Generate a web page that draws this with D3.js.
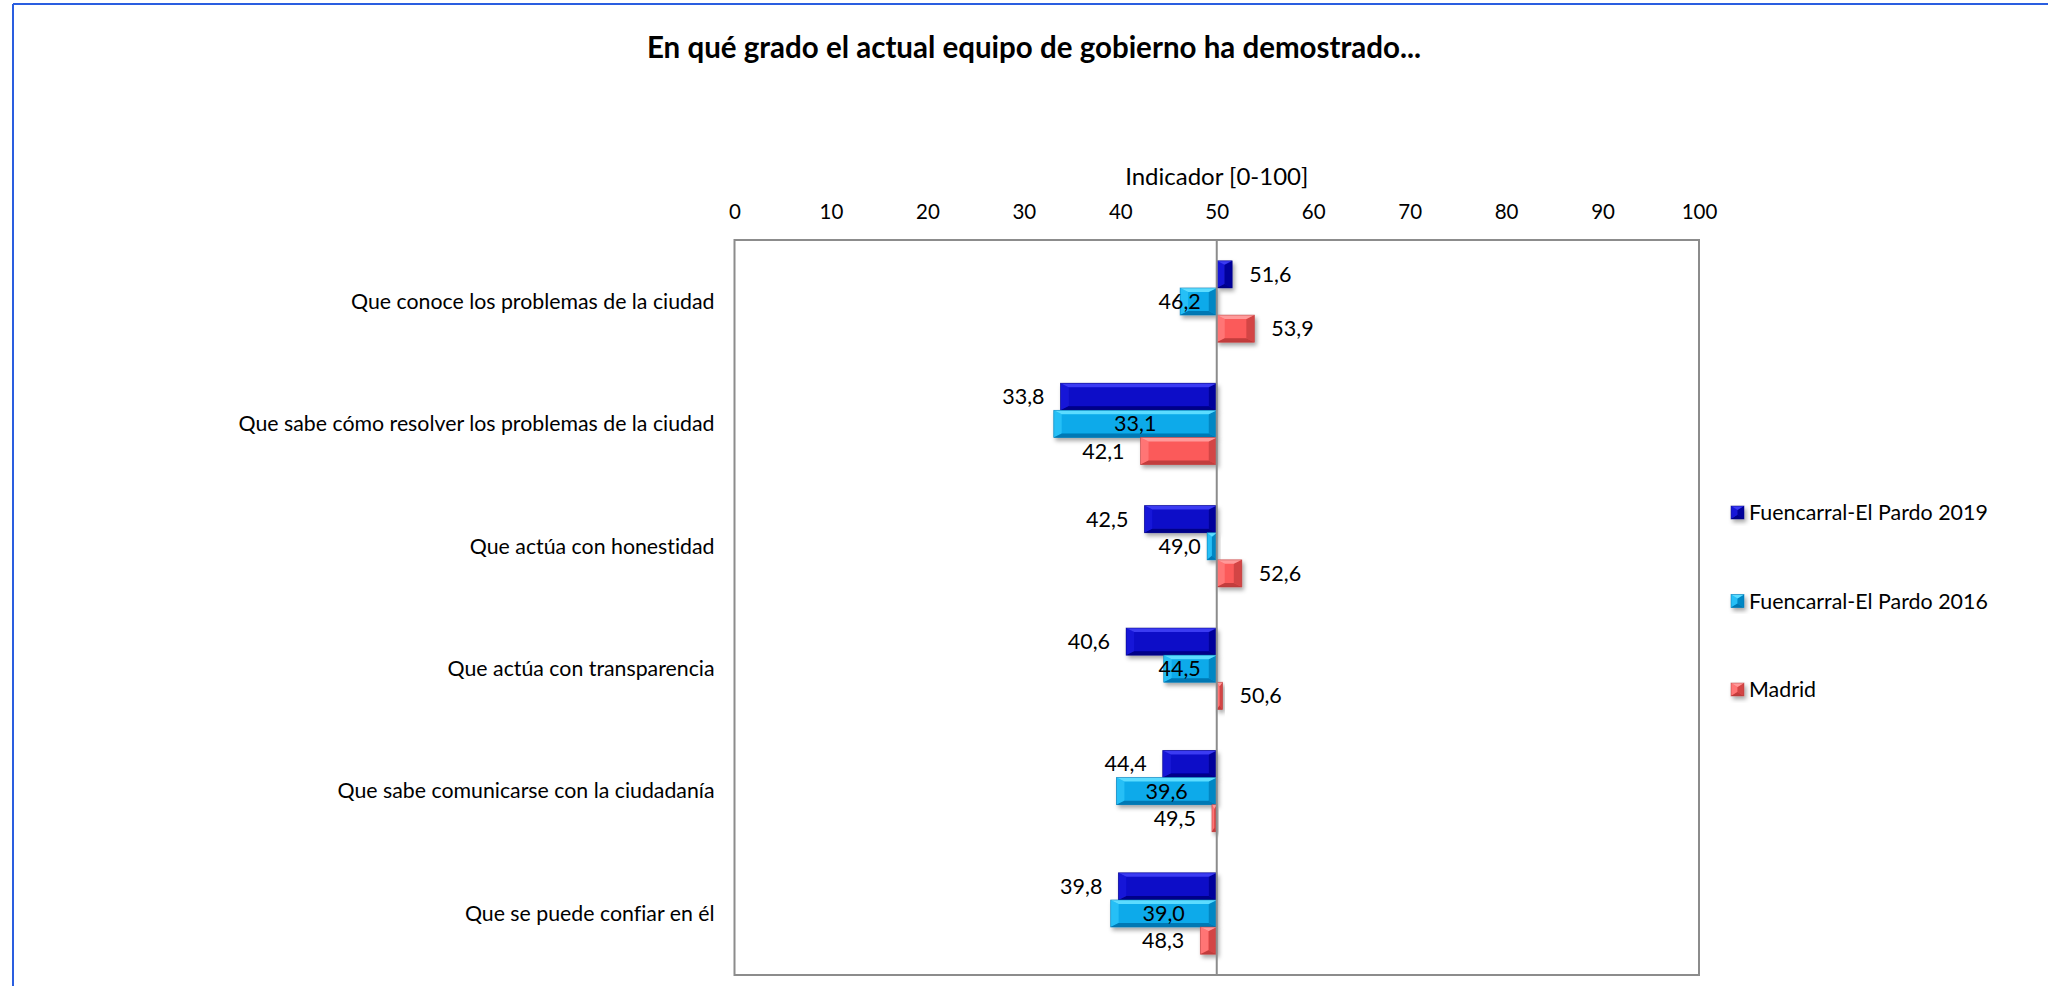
<!DOCTYPE html>
<html>
<head>
<meta charset="utf-8">
<script src="https://cdn.jsdelivr.net/npm/d3@7/dist/d3.min.js"></script>
<style>
  html, body { margin: 0; padding: 0; background: #fff; }
  svg { display: block; font-family: Lato, "Open Sans", sans-serif; font-variant-ligatures: none; }
</style>
</head>
<body>
<svg id="chart" width="2048" height="986"></svg>
<script>
// Survey items (category axis, top to bottom)
const categories = [
  "Que conoce los problemas de la ciudad",
  "Que sabe cómo resolver los problemas de la ciudad",
  "Que actúa con honestidad",
  "Que actúa con transparencia",
  "Que sabe comunicarse con la ciudadanía",
  "Que se puede confiar en él"
];
// Indicator values [0-100] per series
const fuencarral2019 = [51.6, 33.8, 42.5, 40.6, 44.4, 39.8];
const fuencarral2016 = [46.2, 33.1, 49.0, 44.5, 39.6, 39.0];
const madrid = [53.9, 42.1, 52.6, 50.6, 49.5, 48.3];
const seriesNames = ["Fuencarral-El Pardo 2019", "Fuencarral-El Pardo 2016", "Madrid"];
const xTicks = [0, 10, 20, 30, 40, 50, 60, 70, 80, 90, 100];
const baseValue = 50;

const chartTitle = "En qué grado el actual equipo de gobierno ha demostrado...";
const axisTitle = "Indicador [0-100]";

const seriesValues = [fuencarral2019, fuencarral2016, madrid];
// bevel palettes: base, top/left highlight, bottom/right shade, outline
const palettes = [
  { base: "#0c0cc8", light: "#3a3af2", dark: "#000088", side: "#1818d8", stroke: "#00007a" },
  { base: "#0aaaea", light: "#5cdcff", dark: "#0078b4", side: "#26bff6", stroke: "#0072aa" },
  { base: "#fb5a5a", light: "#ff9a9a", dark: "#c23c3c", side: "#ff7474", stroke: "#b03a3a" }
];

const svg = d3.select("#chart");
const fmt = v => d3.format(".1f")(v).replace(".", ",");

// outer frame lines
svg.append("line").attr("x1", 13).attr("y1", 4).attr("x2", 2048).attr("y2", 4)
  .attr("stroke", "#2a5ee0").attr("stroke-width", 2);
svg.append("line").attr("x1", 13).attr("y1", 4).attr("x2", 13).attr("y2", 986)
  .attr("stroke", "#2a5ee0").attr("stroke-width", 2);

const plot = { left: 734.5, right: 1699, top: 240, bottom: 975 };

const x = d3.scaleLinear().domain([0, 100]).range([plot.left, plot.right]);
const y = d3.scaleBand().domain(categories).range([plot.top, plot.bottom])
  .paddingInner(0.335).paddingOuter(0.17);
const ySub = d3.scaleBand().domain(d3.range(seriesValues.length)).range([0, y.bandwidth()]).padding(0.0);

// drop shadow for the bars
const defs = svg.append("defs");
const f = defs.append("filter").attr("id", "shadow").attr("x", "-20%").attr("y", "-30%")
  .attr("width", "160%").attr("height", "180%");
f.append("feDropShadow").attr("dx", 2).attr("dy", 3).attr("stdDeviation", 2)
  .attr("flood-color", "#000").attr("flood-opacity", 0.35);

// title
svg.append("text").attr("x", 1034).attr("y", 58).attr("text-anchor", "middle")
  .attr("font-size", 29.5).attr("font-weight", "bold").attr("fill", "#000").text(chartTitle);

// axis title
svg.append("text").attr("x", x(50)).attr("y", 185).attr("text-anchor", "middle")
  .attr("font-size", 24).attr("fill", "#000").text(axisTitle);

// top value axis
const xAxis = svg.append("g").attr("transform", `translate(0,${plot.top})`)
  .call(d3.axisTop(x).tickValues(xTicks).tickSize(0).tickPadding(21).tickFormat(d3.format("d")));
xAxis.select(".domain").remove();
xAxis.selectAll("text").attr("font-size", 20.5).attr("font-family", "Lato").attr("fill", "#000");

// plot frame
svg.append("rect").attr("x", plot.left).attr("y", plot.top)
  .attr("width", plot.right - plot.left).attr("height", plot.bottom - plot.top)
  .attr("fill", "none").attr("stroke", "#8c8c8c").attr("stroke-width", 2);

// category labels
const catAxis = svg.append("g").attr("transform", `translate(${plot.left},0)`)
  .call(d3.axisLeft(y).tickSize(0).tickPadding(20));
catAxis.select(".domain").remove();
catAxis.selectAll("text").attr("font-size", 21.3).attr("font-family", "Lato").attr("fill", "#000")
  .attr("dy", "0.34em");

// beveled bar drawing
function drawBar(g, x0, x1, y0, y1, p) {
  const w = x1 - x0, h = y1 - y0;
  const b = Math.min(8, w / 2, h / 2);
  const bt = Math.min(4, h / 2);
  const bar = g.append("g").attr("filter", "url(#shadow)");
  bar.append("rect").attr("x", x0).attr("y", y0).attr("width", w).attr("height", h).attr("fill", p.base);
  const poly = pts => pts.map(q => q.join(",")).join(" ");
  // left and right bevels
  bar.append("polygon").attr("points", poly([[x0, y0], [x0 + b, y0 + bt], [x0 + b, y1 - bt], [x0, y1]])).attr("fill", p.side);
  bar.append("polygon").attr("points", poly([[x1, y0], [x1 - b, y0 + bt], [x1 - b, y1 - bt], [x1, y1]])).attr("fill", p.dark).attr("opacity", 0.7);
  // top and bottom bevels
  bar.append("polygon").attr("points", poly([[x0, y0], [x1, y0], [x1 - b, y0 + bt], [x0 + b, y0 + bt]])).attr("fill", p.light);
  bar.append("polygon").attr("points", poly([[x0, y1], [x1, y1], [x1 - b, y1 - bt], [x0 + b, y1 - bt]])).attr("fill", p.dark);
  bar.append("rect").attr("x", x0).attr("y", y0).attr("width", w).attr("height", h)
    .attr("fill", "none").attr("stroke", p.stroke).attr("stroke-width", 0.8).attr("opacity", 0.6);
}

const barsG = svg.append("g");
seriesValues.forEach((vals, s) => {
  vals.forEach((v, i) => {
    const y0 = y(categories[i]) + ySub(s);
    const y1 = y0 + ySub.bandwidth();
    const xa = Math.min(x(v), x(baseValue)), xb = Math.max(x(v), x(baseValue));
    drawBar(barsG, xa, xb, y0, y1, palettes[s]);
  });
});

// baseline at 50
svg.append("line").attr("x1", x(baseValue)).attr("x2", x(baseValue))
  .attr("y1", plot.top).attr("y2", plot.bottom).attr("stroke", "#8c8c8c").attr("stroke-width", 2);

// value labels
const labelsG = svg.append("g").attr("font-size", 21.5).attr("fill", "#000");
seriesValues.forEach((vals, s) => {
  vals.forEach((v, i) => {
    const yc = y(categories[i]) + ySub(s) + ySub.bandwidth() / 2;
    const t = labelsG.append("text").attr("y", yc).attr("dy", "0.35em").text(fmt(v));
    if (s === 1) {
      // centred in the bar, kept clear of the 50 line
      const w = t.node().getComputedTextLength();
      const cx = Math.min((x(v) + x(baseValue)) / 2, x(baseValue) - 16 - w / 2);
      t.attr("x", cx).attr("text-anchor", "middle");
    } else if (v < baseValue) {
      t.attr("x", x(v) - 16).attr("text-anchor", "end");
    } else {
      t.attr("x", x(v) + 17).attr("text-anchor", "start");
    }
  });
});

// legend
const legendY = d3.scaleLinear().domain([0, 2]).range([513, 690]);
const legend = svg.append("g");
seriesNames.forEach((name, s) => {
  const cy = legendY(s);
  drawBar(legend, 1731, 1744, cy - 7, cy + 6, palettes[s]);
  legend.append("text").attr("x", 1749).attr("y", cy).attr("dy", "0.35em")
    .attr("font-size", 21.4).attr("fill", "#000").text(name);
});
</script>
</body>
</html>
